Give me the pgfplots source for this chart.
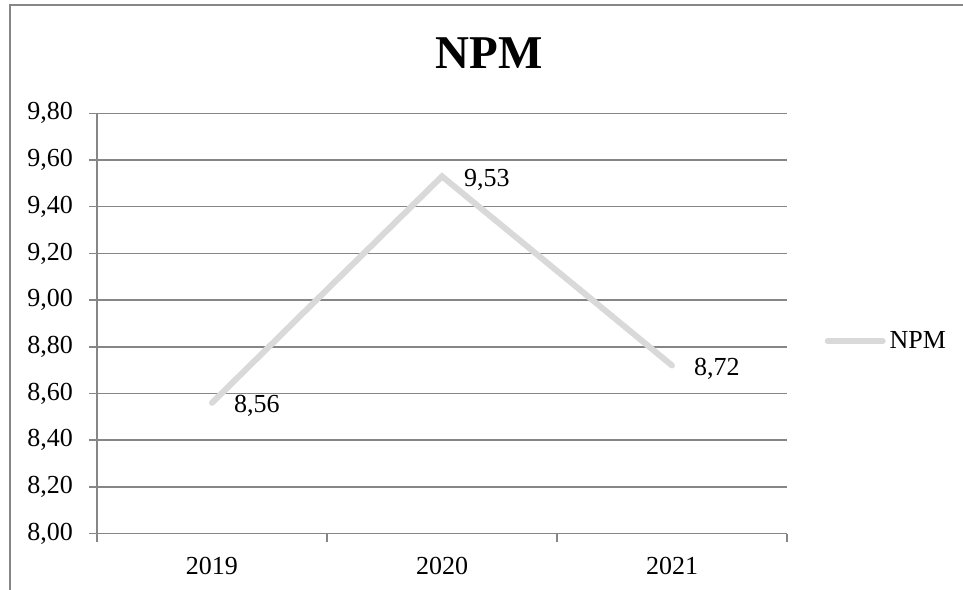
\documentclass[border=0pt]{standalone}
\usepackage{pgfplots}
\pgfplotsset{compat=1.18}
\usepackage{fontspec}
\setmainfont{Liberation Serif}
\definecolor{axgray}{HTML}{868686}
\definecolor{linegray}{HTML}{D9D9D9}
\newcommand\lab{\fontsize{13pt}{15pt}\selectfont}
\begin{document}
\begin{tikzpicture}
\useasboundingbox (-48.5pt,-27.7pt) rectangle (433pt,266.8pt);
\draw[axgray, line width=1pt] (-43.5pt,-60pt) -- (-43.5pt,264.3pt) -- (470pt,264.3pt);
\begin{axis}[
  scale only axis,
  width=345pt, height=210.15pt,
  xmin=-0.5, xmax=2.5,
  ymin=8, ymax=9.8,
  ytick={8,8.2,8.4,8.6,8.8,9,9.2,9.4,9.6,9.8},
  /pgf/number format/.cd, fixed, fixed zerofill, precision=2, use comma, assume math mode=true,
  /pgfplots/.cd,
  axis x line*=bottom, axis y line*=left,
  axis line style={axgray, line width=0.75pt},
  ymajorgrids,
  grid style={axgray, line width=0.75pt},
  tick align=outside,
  major tick length=4pt,
  tick style={axgray, line width=0.75pt},
  xtick={-0.5,0.5,1.5,2.5},
  xticklabels={},
  extra x ticks={0,1,2},
  extra x tick labels={2019,2020,2021},
  extra x tick style={major tick length=0pt, grid=none},
  ytick pos=left, xtick pos=bottom,
  yticklabel style={font=\lab, xshift=-4.5pt},
  xticklabel style={font=\lab, yshift=-8.2pt},
  title={NPM},
  title style={font=\fontsize{23.5pt}{26pt}\selectfont\bfseries, at={(0.568,1)}, anchor=center, yshift=24.2pt},
  legend style={draw=none, fill=none, font=\lab, at={(1.054,0.458)}, anchor=west, inner sep=0pt},
  legend image code/.code={\draw[#1] (0pt,0pt) -- (27.5pt,0pt);},
  nodes near coords,
  nodes near coords style={font=\lab, anchor=west, xshift=6.2pt, yshift=-1.6pt, text=black},
]
\addplot[linegray, line width=3pt, line cap=round, line join=miter, mark=none] coordinates {(0,8.56) (1,9.53) (2,8.72)};
\addlegendentry{NPM}
\end{axis}
\end{tikzpicture}
\end{document}
